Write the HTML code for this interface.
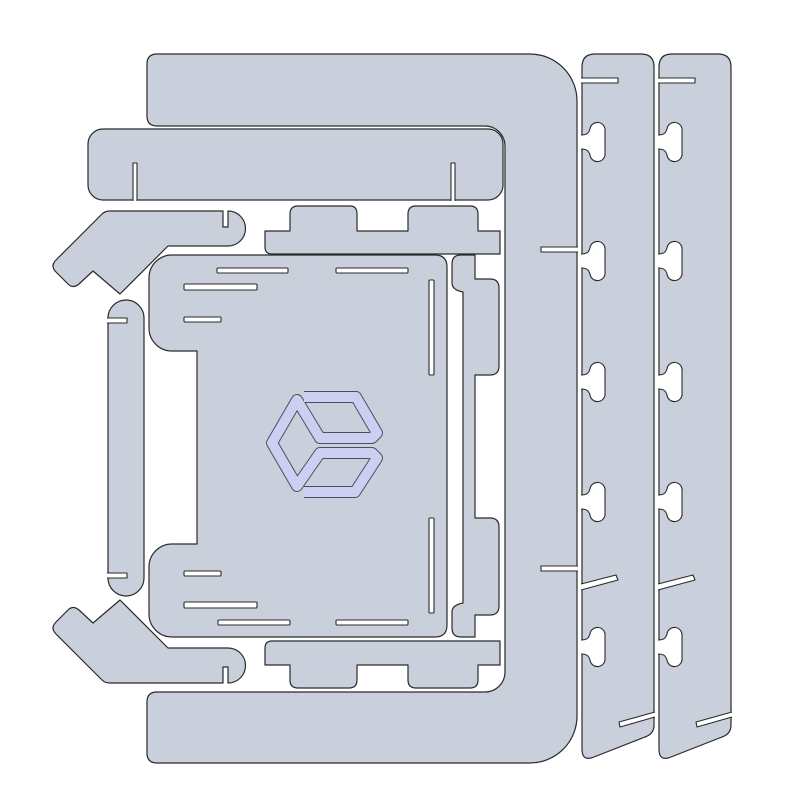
<!DOCTYPE html>
<html><head><meta charset="utf-8"><style>html,body{margin:0;padding:0;background:#fff}svg{display:block}</style></head>
<body>
<svg width="811" height="811" viewBox="0 0 811 811" xmlns="http://www.w3.org/2000/svg">
<g fill="#c9d0db" stroke="#2a2a2a" stroke-width="1.2" stroke-linejoin="round">
<path d="M147,64 Q147,54 157,54 L530,54 A47,47 0 0 1 577,101 L577,716 A47,47 0 0 1 530,763 L157,763 Q147,763 147,753 L147,702 Q147,692 157,692 L485,692 A20,20 0 0 0 505,672 L505,146 A20,20 0 0 0 485,126 L157,126 Q147,126 147,116 Z"/>
<rect x="88" y="129" width="415" height="71" rx="15"/>
<path d="M265,231 L290,231 L290,214 Q290,206 298,206 L350,206 Q357,206 357,214 L357,231 L408,231 L408,214 Q408,206 416,206 L470,206 Q478,206 478,214 L478,231 L500,231 L500,254 L272,254 Q265,254 265,247 Z"/>
<path d="M272,641 L500,641 L500,665 L478,665 L478,680 Q478,688 470,688 L416,688 Q408,688 408,680 L408,665 L357,665 L357,680 Q357,688 349,688 L298,688 Q290,688 290,680 L290,665 L265,665 L265,648 Q265,641 272,641 Z"/>
<path d="M172,255 L435,255 Q447,255 447,267 L447,625 Q447,637 435,637 L172,637 A23,23 0 0 1 149,614 L149,567 A23,23 0 0 1 172,544 L197,544 L197,351 L172,351 A23,23 0 0 1 149,328 L149,278 A23,23 0 0 1 172,255 Z"/>
<path d="M461,255 L475,255 L475,279 L490,279 Q499,279 499,288 L499,366 Q499,375 490,375 L475,375 L475,518 L490,518 Q499,518 499,527 L499,606 Q499,615 490,615 L475,615 L475,637 L461,637 Q452,637 452,628 L452,612 Q452,605 463,603 L463,292 Q452,290 452,283 L452,264 Q452,255 461,255 Z"/>
<path d="M108,318 A18,18 0 0 1 144,318 L144,578 A18,18 0 0 1 108,578 Z"/>
<path id="br" d="M110,211 L223,211 L223,227 L228,227 L228,211 A17.5,17.5 0 0 1 228,246 L168,246 L120,294 L93,271 L79,284 Q73,289 68,284 L56,272 Q50,266 56,260 L102,214 Q105,211 110,211 Z"/>
<use href="#br" transform="matrix(1,0,0,-1,0,894)"/>
<path id="st" d="M582,67 Q582,54 595,54 L641,54 Q654,54 654,67 L654,725 Q654,734 645,737 L594,757 Q582,762 582,749 Z"/>
<use href="#st" transform="translate(77,0)"/>
</g>
<g fill="#fff" stroke="#2a2a2a" stroke-width="1.1" stroke-linejoin="round">
<rect x="217" y="268" width="71" height="5" rx="1"/>
<rect x="336" y="268" width="72" height="5" rx="1"/>
<rect x="184" y="284" width="73" height="6" rx="1"/>
<rect x="184" y="317" width="37" height="5" rx="1"/>
<rect x="429" y="280" width="5" height="95" rx="1"/>
<rect x="184" y="571" width="37" height="5" rx="1"/>
<rect x="184" y="602" width="73" height="6" rx="1"/>
<rect x="218" y="620" width="72" height="5" rx="1"/>
<rect x="336" y="620" width="72" height="5" rx="1"/>
<rect x="429" y="518" width="5" height="95" rx="1"/>
<path d="M133,201 L133,163 L137,163 L137,201"/>
<path d="M451,201 L451,163 L455,163 L455,201"/>
<path d="M578,247 L541,247 L541,252 L578,252"/>
<path d="M578,566 L541,566 L541,571 L578,571"/>
<path d="M107,318 L127,318 L127,323 L107,323"/>
<path d="M107,573 L127,573 L127,578 L107,578"/>
<path d="M581,78 L618,78 L618,83 L581,83"/>
<path d="M658,78 L695,78 L695,83 L658,83"/>
<path d="M581,584 L616,575 L618,580 L581,590"/>
<path d="M658,584 L693,575 L695,580 L658,590"/>
<path d="M655,712 L619,722 L620,727 L655,717"/>
<path d="M732,712 L696,722 L697,727 L732,717"/>
<path d="M581,135 C588,135 589,132 590,129 A7.5,7.5 0 0 1 605,131 L605,153 A7.5,7.5 0 0 1 590,155 C589,152 588,149 581,149"/>
<path d="M581,254 C588,254 589,251 590,248 A7.5,7.5 0 0 1 605,250 L605,272 A7.5,7.5 0 0 1 590,274 C589,271 588,268 581,268"/>
<path d="M581,375 C588,375 589,372 590,369 A7.5,7.5 0 0 1 605,371 L605,393 A7.5,7.5 0 0 1 590,395 C589,392 588,389 581,389"/>
<path d="M581,495 C588,495 589,492 590,489 A7.5,7.5 0 0 1 605,491 L605,513 A7.5,7.5 0 0 1 590,515 C589,512 588,509 581,509"/>
<path d="M581,640 C588,640 589,637 590,634 A7.5,7.5 0 0 1 605,636 L605,658 A7.5,7.5 0 0 1 590,660 C589,657 588,654 581,654"/>
<path d="M658,135 C665,135 666,132 667,129 A7.5,7.5 0 0 1 682,131 L682,153 A7.5,7.5 0 0 1 667,155 C666,152 665,149 658,149"/>
<path d="M658,254 C665,254 666,251 667,248 A7.5,7.5 0 0 1 682,250 L682,272 A7.5,7.5 0 0 1 667,274 C666,271 665,268 658,268"/>
<path d="M658,375 C665,375 666,372 667,369 A7.5,7.5 0 0 1 682,371 L682,393 A7.5,7.5 0 0 1 667,395 C666,392 665,389 658,389"/>
<path d="M658,495 C665,495 666,492 667,489 A7.5,7.5 0 0 1 682,491 L682,513 A7.5,7.5 0 0 1 667,515 C666,512 665,509 658,509"/>
<path d="M658,640 C665,640 666,637 667,634 A7.5,7.5 0 0 1 682,636 L682,658 A7.5,7.5 0 0 1 667,660 C666,657 665,654 658,654"/>
</g>
<g fill="none" stroke-linejoin="round" stroke-linecap="butt">
<path stroke="#4a4e60" stroke-width="12" d="M304,397 L356,397 L377,433 L372,438 L320,438 L297,400 L272,443 L297,486 L320,453 L372,453 L377,458 L355,492 L304,492"/>
<path stroke="#cbd0f2" stroke-width="10" d="M304,397 L356,397 L377,433 L372,438 L320,438 L297,400 L272,443 L297,486 L320,453 L372,453 L377,458 L355,492 L304,492"/>
</g>
</svg>
</body></html>
